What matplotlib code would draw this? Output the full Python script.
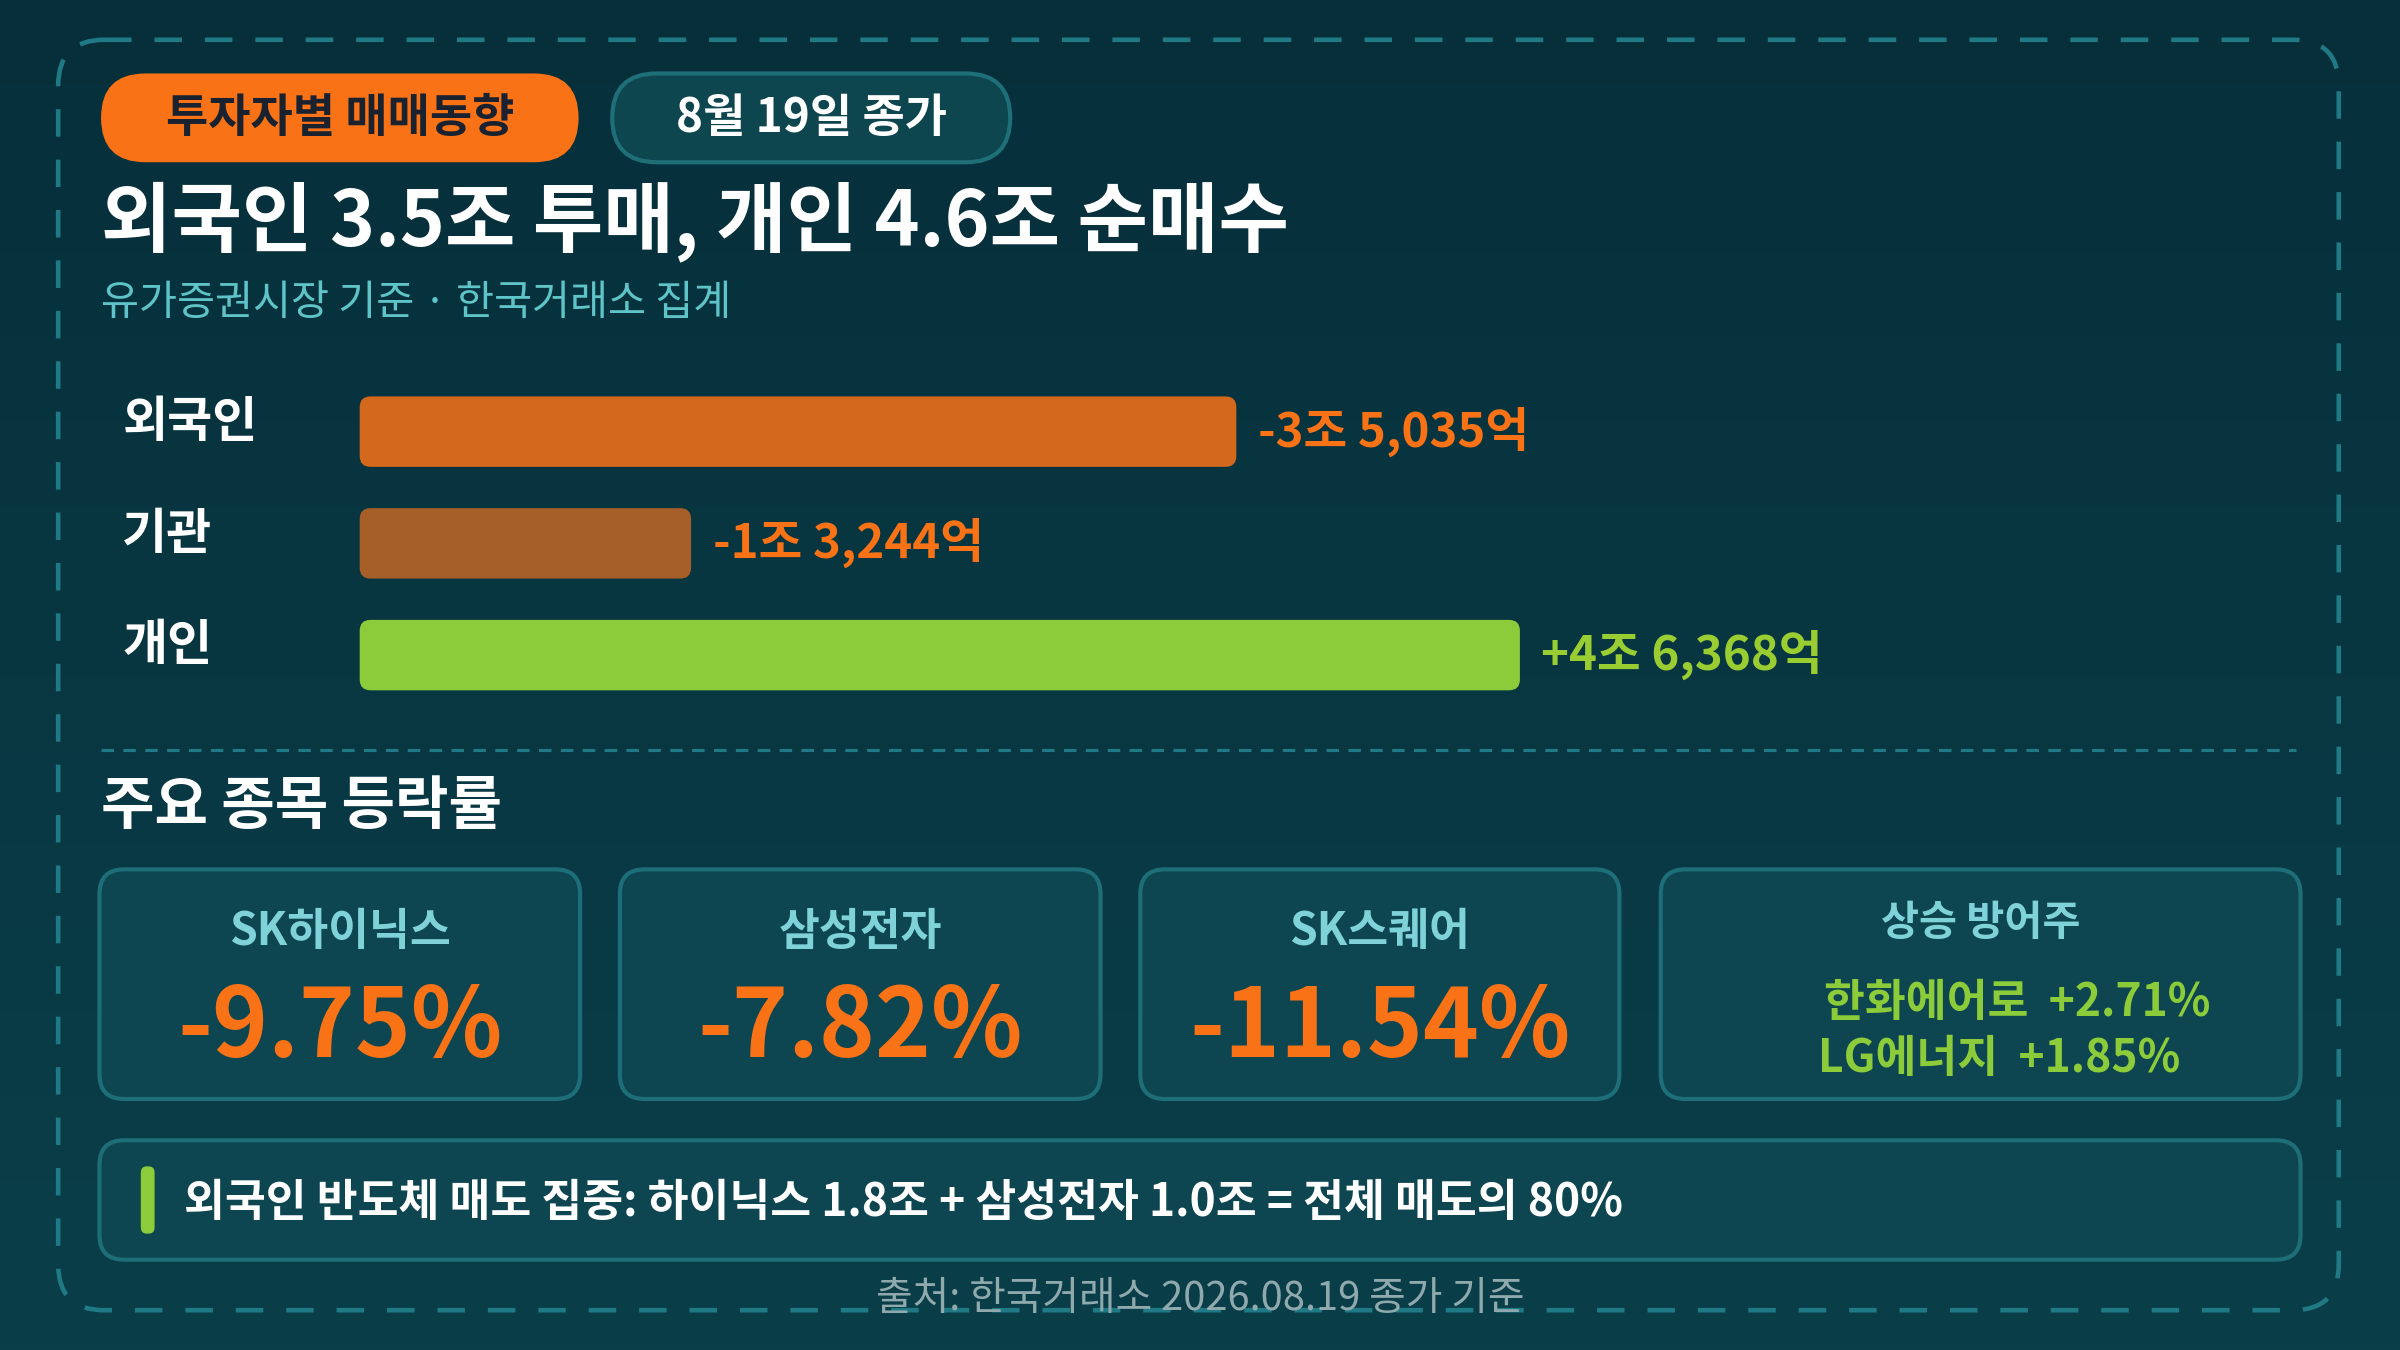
import matplotlib
matplotlib.use("Agg")
import matplotlib.pyplot as plt
from matplotlib.patches import FancyBboxPatch, Rectangle
import numpy as np

plt.rcParams['font.family'] = ['Noto Sans CJK KR', 'DejaVu Sans']

# ---- data ----
investors = ["외국인", "기관", "개인"]
net_values = [-3.5035, -1.3244, 4.6368]   # 조원
net_labels = ["-3조 5,035억", "-1조 3,244억", "+4조 6,368억"]
bar_colors = ["#d4691e", "#a65f28", "#8ccc3a"]
label_colors = ["#f97316", "#f97316", "#9acd32"]
stocks = ["SK하이닉스", "삼성전자", "SK스퀘어"]
stock_changes = [-9.75, -7.82, -11.54]
defensive_names = ["한화에어로", "LG에너지"]
defensive_changes = [2.71, 1.85]

W, H = 1568, 882
fig = plt.figure(figsize=(16, 9), dpi=150)
ax = fig.add_axes([0, 0, 1, 1])
ax.set_xlim(0, W); ax.set_ylim(H, 0); ax.axis('off')

def fs(px):
    return px * 0.735

# background gradient
grad = np.linspace(0, 1, 256).reshape(-1, 1)
from matplotlib.colors import LinearSegmentedColormap
cm = LinearSegmentedColormap.from_list("bg", ["#062f3a", "#0a3f4a"])
ax.imshow(grad, cmap=cm, extent=[0, W, H, 0], aspect='auto', zorder=0)

def rbox(x0, y0, x1, y1, r, fc, ec="none", lw=1.5, ls="-", z=1):
    p = FancyBboxPatch((x0, y0), x1 - x0, y1 - y0, boxstyle=f"round,pad=0,rounding_size={r}",
                       fc=fc, ec=ec, lw=lw, ls=ls, zorder=z)
    ax.add_patch(p)

# outer dashed border
rbox(38, 26, 1528, 856, 30, "none", "#1f7a85", lw=2.2, ls=(0, (6, 5)))

# pills
rbox(66, 48, 378, 106, 29, "#f97316", z=2)
ax.text(222, 77, "투자자별 매매동향", ha='center', va='center', fontsize=fs(30), fontweight='bold', color="#1a2230", zorder=3)
rbox(400, 48, 660, 106, 29, "#0e4650", "#1f6f78", lw=2, z=2)
ax.text(530, 77, "8월 19일 종가", ha='center', va='center', fontsize=fs(30), fontweight='bold', color="white", zorder=3)

ax.text(66, 145, "외국인 3.5조 투매, 개인 4.6조 순매수", ha='left', va='center', fontsize=fs(50), fontweight='bold', color="white")
ax.text(66, 198, "유가증권시장 기준 · 한국거래소 집계", ha='left', va='center', fontsize=fs(27), color="#5fc4c8")

# bars
x0 = 235
scale = (993 - 235) / max(abs(v) for v in net_values)
ys = [282, 355, 428]
for name, v, lab, c, lc, y in zip(investors, net_values, net_labels, bar_colors, label_colors, ys):
    ax.text(80, y - 6, name, ha='left', va='center', fontsize=fs(32), fontweight='bold', color='white')
    L = abs(v) * scale
    rbox(x0, y - 23, x0 + L, y + 23, 7, c, z=2)
    ax.text(x0 + L + 14, y, lab, ha='left', va='center', fontsize=fs(31), fontweight='bold', color=lc)

ax.plot([66, 1500], [490, 490], color="#1f7a85", lw=1.5, ls=(0, (4, 3)))
ax.text(66, 527, "주요 종목 등락률", ha='left', va='center', fontsize=fs(38), fontweight='bold', color='white')

# cards
cards = [(65, 379), (405, 719), (745, 1058)]
for (a, b), nm, ch in zip(cards, stocks, stock_changes):
    rbox(a, 568, b, 718, 16, "#0d4550", "#1d6e78", lw=2, z=2)
    cx = (a + b) / 2
    ax.text(cx, 609, nm, ha='center', va='center', fontsize=fs(29), fontweight='bold', color="#7fd3d8", zorder=3)
    ax.text(cx, 672, f"{ch:.2f}%", ha='center', va='center', fontsize=fs(62), fontweight='bold', color="#f97316", zorder=3)
rbox(1085, 568, 1503, 718, 16, "#0d4550", "#1d6e78", lw=2, z=2)
ax.text(1294, 603, "상승 방어주", ha='center', va='center', fontsize=fs(27), fontweight='bold', color="#7fd3d8", zorder=3)
for nm, ch, y, xc in zip(defensive_names, defensive_changes, [655, 692], [1318, 1306]):
    ax.text(xc, y, f"{nm}  +{ch:.2f}%", ha='center', va='center', fontsize=fs(29), fontweight='bold', color="#8ccc3a", zorder=3)

# bottom note
rbox(65, 745, 1503, 823, 16, "#0d4550", "#1d6e78", lw=2, z=2)
rbox(92, 762, 101, 806, 4, "#8ccc3a", z=3)
ax.text(120, 786, "외국인 반도체 매도 집중: 하이닉스 1.8조 + 삼성전자 1.0조 = 전체 매도의 80%", ha='left', va='center',
        fontsize=fs(29), fontweight='bold', color='white', zorder=3)

ax.text(784, 849, "출처: 한국거래소 2026.08.19 종가 기준", ha='center', va='center', fontsize=fs(26), color="#8fa9ad", zorder=3)

fig.savefig("out.png", dpi=150)
